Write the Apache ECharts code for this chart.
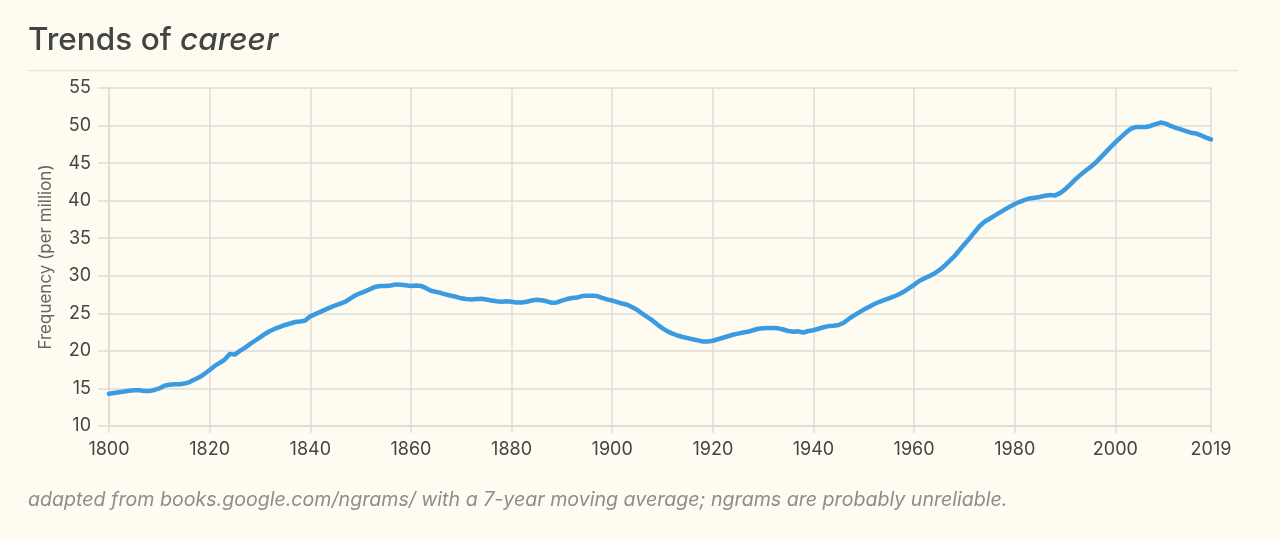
<!DOCTYPE html>
<html>
<head>
<meta charset="utf-8">
<script src="https://cdn.jsdelivr.net/npm/echarts@6/dist/echarts.min.js"></script>
<style>
html,body{margin:0;padding:0;background:#fefcf1;}
#chart{width:1280px;height:539px;}
</style>
</head>
<body>
<div id="chart"></div>
<script>
const startYear = 1800;
const endYear = 2019;
const tickLabels = ['1800','1820','1840','1860','1880','1900','1920','1940','1960','1980','2000','2019'];
const frequency = [
14.3,14.4,14.5,14.6,14.7,14.75,14.75,14.65,14.65,14.8,
15.0,15.35,15.5,15.55,15.55,15.65,15.85,16.2,16.5,16.95,
17.45,18.0,18.4,18.85,19.6,19.5,20.0,20.4,20.9,21.35,
21.8,22.25,22.65,22.95,23.2,23.45,23.65,23.85,23.9,24.05,
24.6,24.9,25.2,25.5,25.8,26.05,26.3,26.55,27.0,27.4,
27.7,27.95,28.25,28.55,28.65,28.65,28.7,28.85,28.8,28.75,
28.65,28.7,28.65,28.35,28.0,27.85,27.7,27.5,27.35,27.2,
27.0,26.9,26.85,26.9,26.95,26.85,26.7,26.6,26.55,26.6,
26.55,26.45,26.45,26.55,26.7,26.8,26.75,26.6,26.4,26.45,
26.7,26.9,27.05,27.1,27.3,27.35,27.35,27.3,27.05,26.85,
26.7,26.5,26.3,26.15,25.8,25.45,24.95,24.5,24.05,23.5,
23.0,22.6,22.3,22.05,21.85,21.7,21.55,21.4,21.25,21.25,
21.35,21.55,21.75,21.95,22.15,22.3,22.45,22.55,22.75,22.95,
23.0,23.05,23.05,23.0,22.85,22.65,22.55,22.6,22.45,22.65,
22.75,22.95,23.15,23.3,23.35,23.45,23.75,24.25,24.7,25.1,
25.5,25.85,26.2,26.5,26.75,27.0,27.25,27.55,27.9,28.35,
28.8,29.3,29.65,29.95,30.3,30.75,31.3,31.95,32.6,33.4,
34.2,34.95,35.8,36.6,37.2,37.6,38.0,38.4,38.8,39.2,
39.55,39.85,40.1,40.3,40.4,40.5,40.65,40.75,40.7,41.0,
41.5,42.15,42.8,43.4,43.95,44.45,45.0,45.7,46.4,47.1,
47.75,48.4,49.0,49.55,49.8,49.8,49.8,49.95,50.2,50.4,
50.25,49.95,49.7,49.5,49.25,49.05,48.95,48.7,48.4,48.15
];
const years = [];
for (let y = startYear; y <= endYear; y++) years.push(String(y));

const showTick = (idx, val) => tickLabels.indexOf(String(val)) >= 0;
const FONT = 'Inter, Roboto, "Noto Sans", sans-serif';
const gridColor = '#dedcd4';

const chart = echarts.init(document.getElementById('chart'), null, {renderer: 'canvas'});
chart.setOption({
  backgroundColor: '#fefcf1',
  animation: false,
  grid: {left: 109, right: 69, top: 88, bottom: 113, containLabel: false},
  graphic: [
    {
      type: 'text', left: 28, top: 25,
      style: {
        text: '{a|Trends of }{b|career}',
        rich: {
          a: {font: '500 31.5px ' + FONT, fill: '#444444'},
          b: {font: 'italic 500 31.5px ' + FONT, fill: '#444444'}
        }
      }
    },
    {
      type: 'line',
      shape: {x1: 28, y1: 70.5, x2: 1238, y2: 70.5},
      style: {stroke: '#e6e5dd', lineWidth: 1.5}
    },
    {
      type: 'text', left: 28, top: 490,
      style: {
        text: 'adapted from books.google.com/ngrams/ with a 7-year moving average; ngrams are probably unreliable.',
        font: 'italic 400 19.6px ' + FONT,
        fill: '#8c8c8c'
      }
    }
  ],
  xAxis: {
    type: 'category',
    data: years,
    boundaryGap: false,
    axisLine: {show: true, lineStyle: {color: gridColor, width: 1.5}},
    axisTick: {show: true, length: 7, interval: showTick, lineStyle: {color: gridColor, width: 1.5}},
    axisLabel: {interval: showTick, color: '#444', fontSize: 18, fontFamily: FONT, margin: 15},
    splitLine: {show: true, interval: showTick, lineStyle: {color: gridColor, width: 1.5}}
  },
  yAxis: {
    type: 'value',
    min: 10, max: 55, interval: 5,
    name: 'Frequency (per million)',
    nameLocation: 'middle',
    nameGap: 55,
    nameTextStyle: {color: '#666', fontSize: 17, fontFamily: FONT},
    axisLine: {show: true, lineStyle: {color: gridColor, width: 1.5}},
    axisTick: {show: true, length: 11, lineStyle: {color: gridColor, width: 1.5}},
    axisLabel: {color: '#444', fontSize: 18, fontFamily: FONT, margin: 18},
    splitLine: {show: true, lineStyle: {color: gridColor, width: 1.5}}
  },
  series: [{
    type: 'line',
    data: frequency,
    showSymbol: false,
    symbol: 'none',
    smooth: false,
    lineStyle: {color: '#3a9be0', width: 4.5, join: 'round', cap: 'round'}
  }]
});
</script>
</body>
</html>
